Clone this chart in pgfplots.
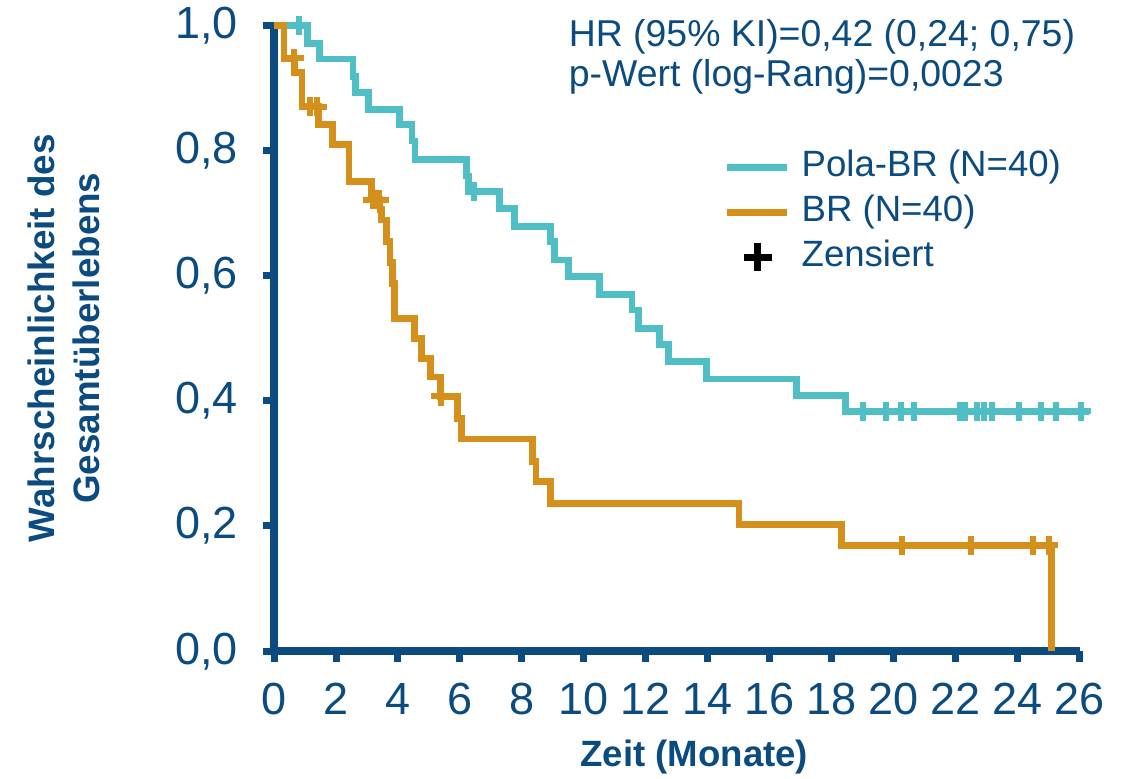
\documentclass[border=0pt]{standalone}
\usepackage{fontspec}
\setmainfont{Liberation Sans}
\usepackage{pgfplots}
\pgfplotsset{compat=1.18}

\definecolor{dkblue}{RGB}{11,75,128}
\definecolor{tealc}{RGB}{80,190,197}
\definecolor{orangec}{RGB}{212,144,26}

\begin{document}
\begin{tikzpicture}
\begin{axis}[
    scale only axis,
    width=403pt, height=313pt,
    xmin=0, xmax=26, ymin=0, ymax=1,
    axis lines=left,
    axis line style={-, line width=4pt, dkblue},
    xtick={0,2,4,6,8,10,12,14,16,18,20,22,24,26},
    ytick={0,0.2,0.4,0.6,0.8,1},
    yticklabels={{0,0},{0,2},{0,4},{0,6},{0,8},{1,0}},
    tick align=outside,
    major tick length=5.5pt,
    tick style={line width=3.5pt, dkblue},
    ticklabel style={font=\fontsize{22.5}{26}\selectfont, text=dkblue},
    xticklabel style={yshift=-7pt},
    yticklabel style={xshift=-9pt},
    /pgf/number format/assume math mode=true,
    clip=false,
    legend cell align=left,
    legend style={draw=none, fill=none, inner sep=0pt,
        at={(axis cs:14.48,0.805)}, anchor=north west,
        font=\fontsize{18.3}{22}\selectfont, text=dkblue,
        nodes={inner sep=1pt, text height=13.5pt, text depth=4pt},
        row sep=3pt},
]
% Rahmen fuer die Bildgroesse
\path (axis cs:-8.84,-0.203) rectangle (axis cs:27.68,1.035);

\addlegendimage{legend image code/.code={\draw[tealc, line width=3.4pt] (0pt,0pt) -- (30pt,0pt); \path[draw=none] (0pt,-7pt) rectangle (36.5pt,7pt);}}
\addlegendentry{Pola-BR (N=40)}
\addlegendimage{legend image code/.code={\draw[orangec, line width=3.4pt] (0pt,0pt) -- (30pt,0pt); \path[draw=none] (0pt,-7pt) rectangle (36.5pt,7pt);}}
\addlegendentry{BR (N=40)}
\addlegendimage{legend image code/.code={\draw[black, line width=3.4pt] (15.5pt,-7pt) -- (15.5pt,7pt) (8.5pt,0pt) -- (22.5pt,0pt); \path[draw=none] (0pt,-7pt) rectangle (36.5pt,7pt);}}
\addlegendentry{Zensiert\vphantom{()}}

% Pola-BR
\addplot[const plot, tealc, line width=3.4pt, forget plot] coordinates {
(0,1.0) (1.07,0.971) (1.46,0.946) (2.55,0.918) (2.62,0.893) (3.05,0.866)
(4.06,0.841) (4.45,0.815) (4.55,0.786) (6.21,0.759) (6.27,0.734)
(7.27,0.707) (7.75,0.679) (8.93,0.654) (9.06,0.625) (9.49,0.598)
(10.49,0.570) (11.55,0.545) (11.76,0.516) (12.43,0.490) (12.72,0.463)
(13.95,0.435) (16.86,0.408) (18.44,0.383) (26.3,0.383)};
\addplot[only marks, mark=+, tealc, mark size=4.75pt, mark options={line width=3pt}, forget plot] coordinates {
(0.81,1.0) (6.46,0.734)
(19.01,0.383) (19.73,0.383) (20.22,0.383) (20.65,0.383) (22.13,0.383)
(22.29,0.383) (22.67,0.383) (22.91,0.383) (23.17,0.383) (24.03,0.383)
(24.73,0.383) (25.22,0.383) (26.05,0.383)};

% BR
\addplot[const plot, orangec, line width=3.4pt, forget plot] coordinates {
(0,1.0) (0.32,0.947) (0.65,0.925) (0.9,0.870) (1.43,0.841) (1.88,0.810)
(2.42,0.750) (3.15,0.721) (3.42,0.706) (3.47,0.689) (3.63,0.654)
(3.74,0.621) (3.83,0.588) (3.90,0.532) (4.52,0.500) (4.77,0.468)
(5.06,0.438) (5.38,0.407) (5.92,0.372) (6.05,0.339) (8.33,0.303)
(8.45,0.271) (8.92,0.236) (15.0,0.202) (18.31,0.169) (25.08,0.169) (25.08,0)};
\addplot[only marks, mark=+, orangec, mark size=4.75pt, mark options={line width=3pt}, forget plot] coordinates {
(0.65,0.947) (1.16,0.870) (1.39,0.870) (3.18,0.721) (3.40,0.721)
(5.38,0.407) (20.27,0.169) (22.47,0.169) (24.47,0.169) (25.0,0.169)};

% Texte
\node[anchor=base west, inner sep=0pt, font=\fontsize{18.7}{22}\selectfont, text=dkblue]
    at (axis cs:9.5,0.966) {HR (95\% KI)=0,42 (0,24; 0,75)};
\node[anchor=base west, inner sep=0pt, font=\fontsize{18.7}{22}\selectfont, text=dkblue]
    at (axis cs:9.5,0.902) {p-Wert (log-Rang)=0,0023};
\node[rotate=90, anchor=south, inner sep=0pt, align=center,
    font=\bfseries\fontsize{18.4}{22.5}\selectfont, text=dkblue]
    at (axis cs:-5.61,0.5) {Wahrscheinlichkeit des\\Gesamtüberlebens};
\node[anchor=base, inner sep=0pt, font=\bfseries\fontsize{18.3}{22}\selectfont, text=dkblue]
    at (axis cs:13.56,-0.184) {Zeit (Monate)};
\end{axis}
\end{tikzpicture}
\end{document}
